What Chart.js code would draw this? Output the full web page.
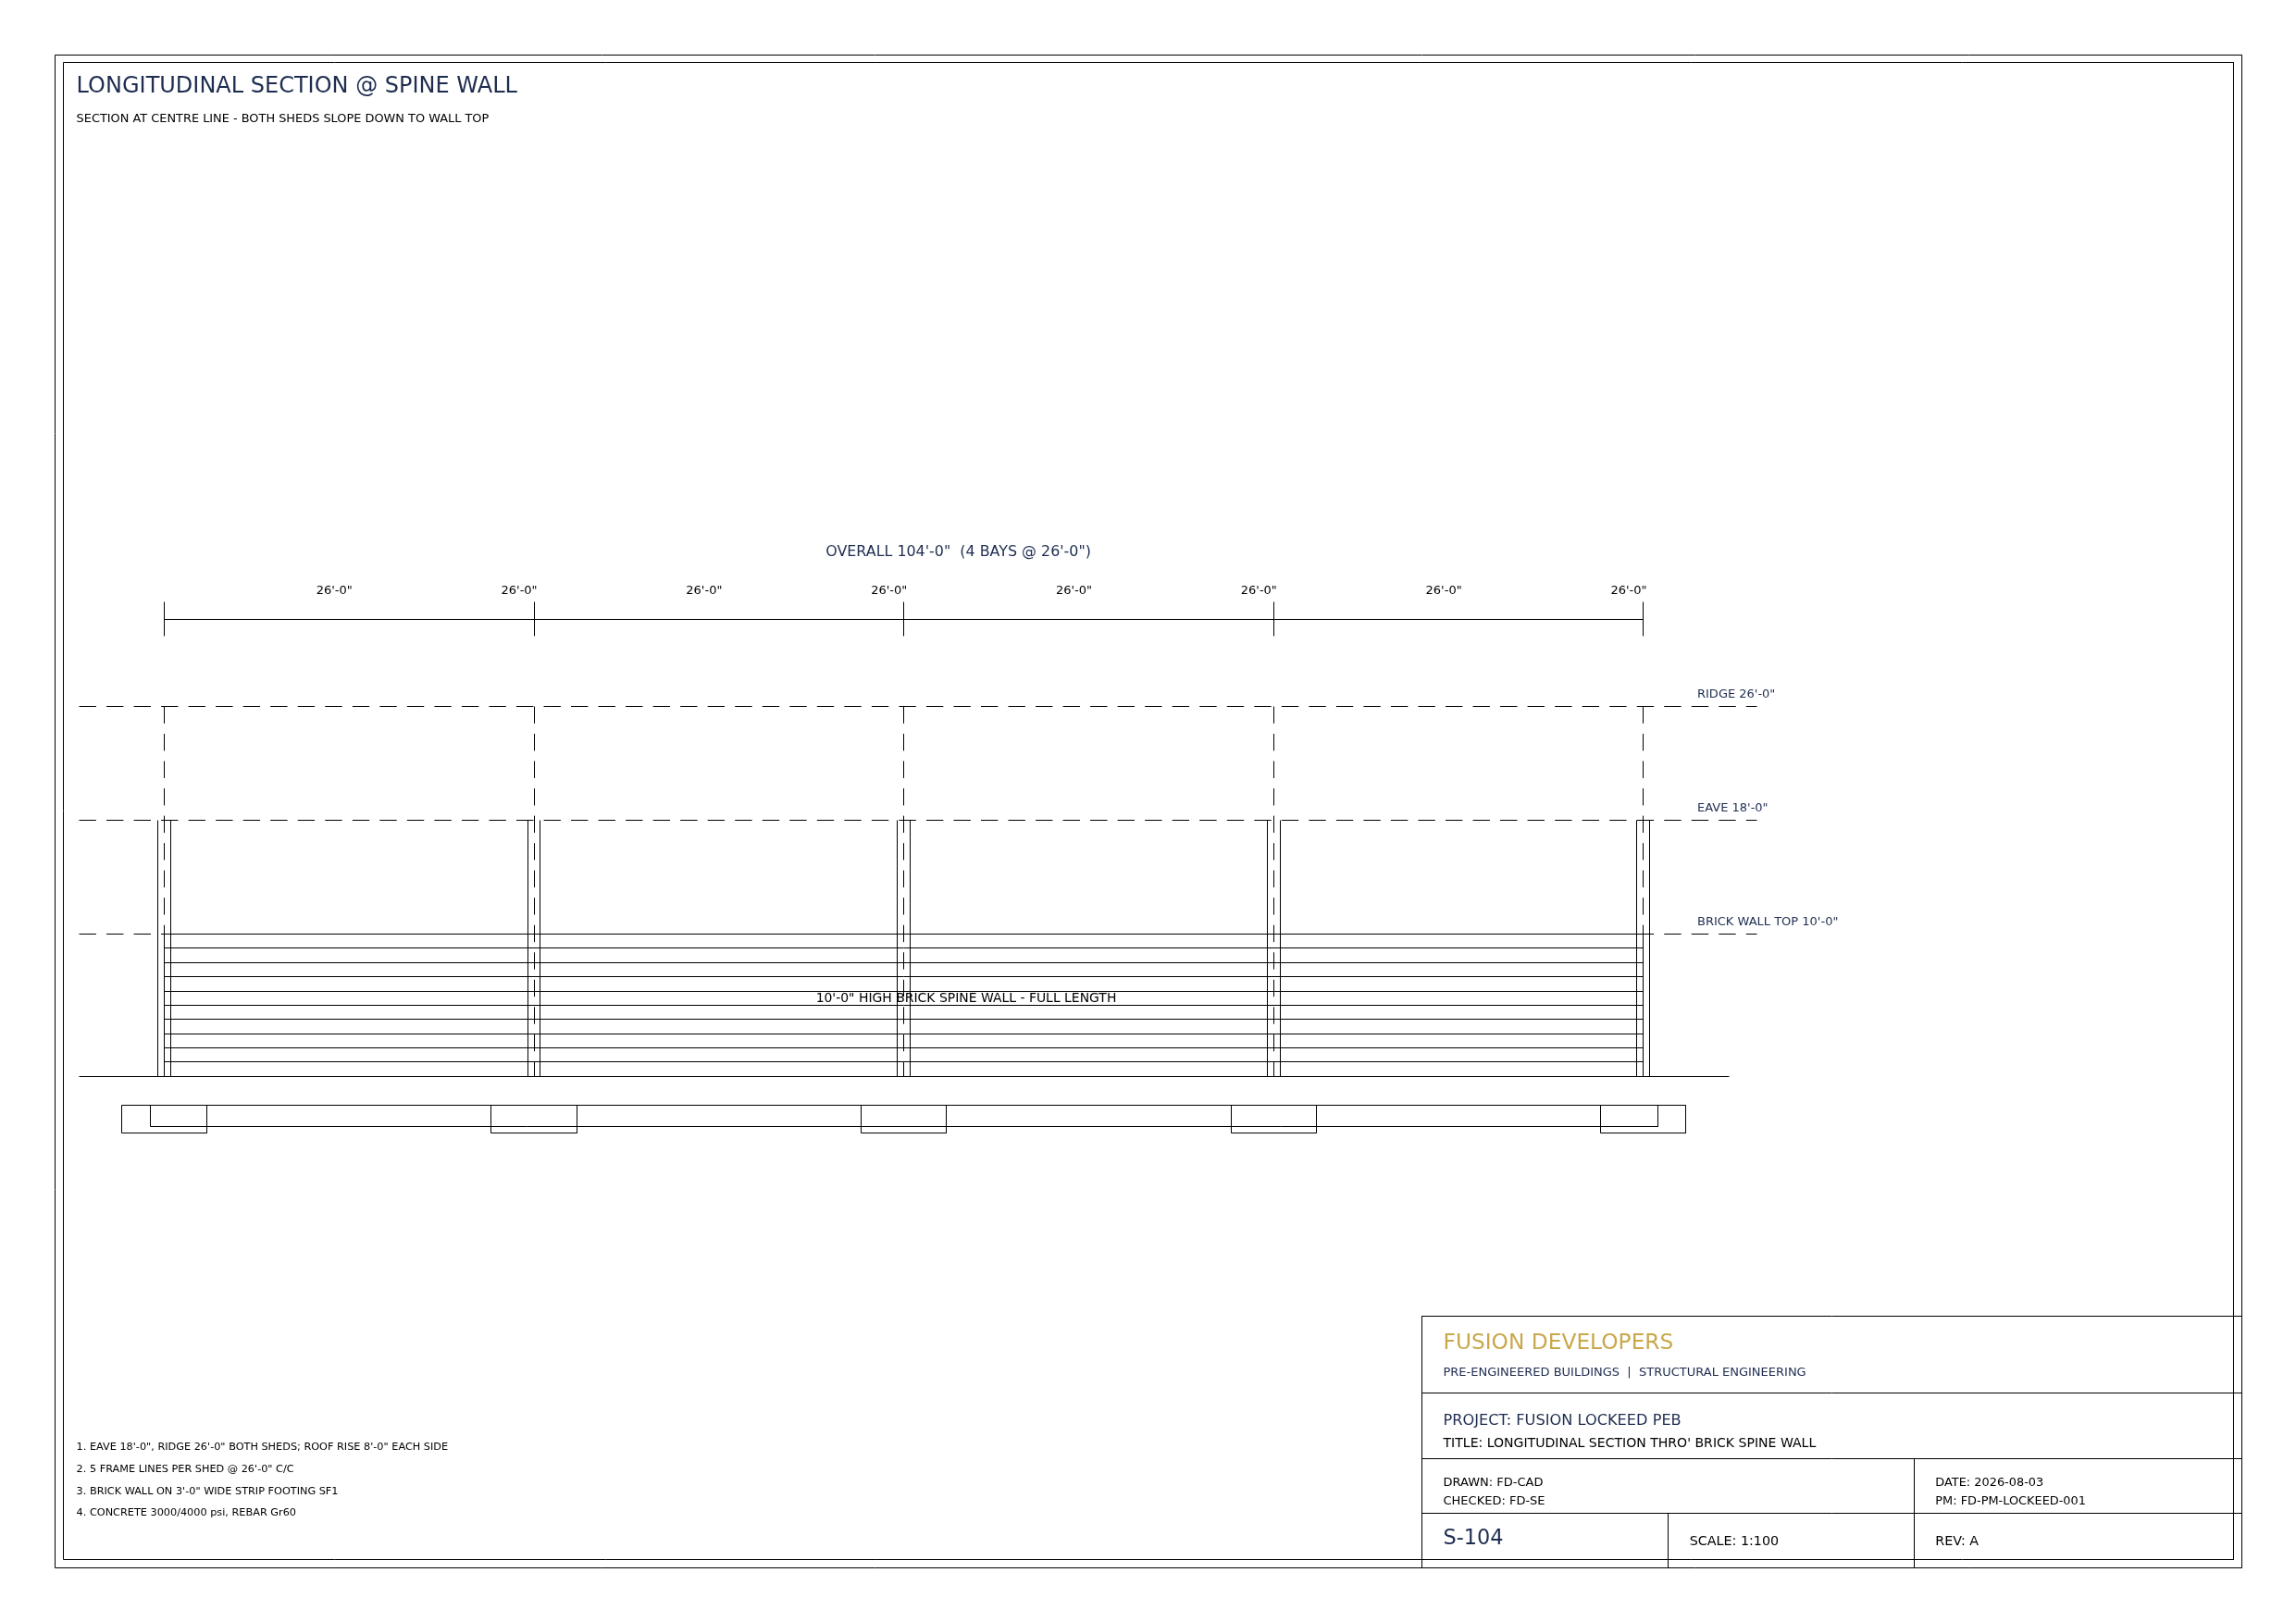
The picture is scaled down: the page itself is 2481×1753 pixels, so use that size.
<!DOCTYPE html>
<html>
<head>
<meta charset="utf-8">
<title>Longitudinal section @ spine wall</title>
<script src="https://cdn.jsdelivr.net/npm/chart.js@4/dist/chart.umd.min.js"></script>
<style>
  html, body { margin: 0; padding: 0; background: #fff; }
  #wrap { width: 2481px; height: 1753px; }
  canvas { display: block; }
</style>
</head>
<body>
<div id="wrap"><canvas id="sheet" width="2481" height="1753"></canvas></div>
<script>
// drawing values, all in feet
const frameLines = [0, 26, 52, 78, 104];
const levelValues = [26, 18, 10];
const levelNames = ["RIDGE 26'-0\"", "EAVE 18'-0\"", "BRICK WALL TOP 10'-0\""];
const brickCourses = [1, 2, 3, 4, 5, 6, 7, 8, 9];
const spanLabelAt = [12, 25, 38, 51, 64, 77, 90, 103];
const spanLabels = ["26'-0\"", "26'-0\"", "26'-0\"", "26'-0\"", "26'-0\"", "26'-0\"", "26'-0\"", "26'-0\""];
const levelExtent = [-6, 112];
const groundExtent = [-6, 110];
const wallExtent = [0, 104];
const wallTop = 10;
const columnHalf = 0.45;
const stripExtent = [-1, 105];
const stripLevels = [-2, -3.5];
const padHalf = 3;
const padLevels = [-2, -4];
const dimLevel = 32.15;
const dimTickHalf = 1.2;

// texts
const sheetTitle = "LONGITUDINAL SECTION @ SPINE WALL";
const sheetSubtitle = "SECTION AT CENTRE LINE - BOTH SHEDS SLOPE DOWN TO WALL TOP";
const overallLabel = "OVERALL 104'-0\"  (4 BAYS @ 26'-0\")";
const wallLabel = "10'-0\" HIGH BRICK SPINE WALL - FULL LENGTH";
const noteLines = [
  "1. EAVE 18'-0\", RIDGE 26'-0\" BOTH SHEDS; ROOF RISE 8'-0\" EACH SIDE",
  "2. 5 FRAME LINES PER SHED @ 26'-0\" C/C",
  "3. BRICK WALL ON 3'-0\" WIDE STRIP FOOTING SF1",
  "4. CONCRETE 3000/4000 psi, REBAR Gr60",
];

// sheet layout in pixels
const PX_X = 15.37, PX_Y = 15.37;
const ORIGIN_X = 177.4, ORIGIN_Y = 1163.3;
const W = 2481, H = 1753;
const NAVY = "#1e2d50", GOLD = "#c9a84c", INK = "#000";
const FONT = '"DejaVu Sans"';

const datasets = [];
function addLine(points, extra) {
  datasets.push({
    data: points,
    showLine: true,
    pointRadius: 0,
    borderColor: "#000",
    borderWidth: 1,
    tension: 0,
    fill: false,
    ...extra,
  });
}
const onSheet = { xAxisID: "sx", yAxisID: "sy" };
function sheetLine(x1, y1, x2, y2) {
  addLine([{ x: x1, y: y1 }, { x: x2, y: y2 }], onSheet);
}
function rect(x1, x2, y1, y2) {
  return [{ x: x1, y: y1 }, { x: x2, y: y1 }, { x: x2, y: y2 }, { x: x1, y: y2 }, { x: x1, y: y1 }];
}

// borders and title block
addLine(rect(59, 2422.5, 59.5, 1694), onSheet);
addLine(rect(68, 2413.5, 67.5, 1685), onSheet);
[1422.3, 1505.3, 1576, 1635.3].forEach((y) => sheetLine(1536.3, y, 2422.5, y));
sheetLine(1536.3, 1422.3, 1536.3, 1694);
sheetLine(1802.3, 1635.3, 1802.3, 1694);
sheetLine(2068.3, 1576, 2068.3, 1694);

// level lines
const dash = [18.4, 11.13];
levelValues.forEach((lv) => {
  addLine(levelExtent.map((x) => ({ x, y: lv })), { borderDash: dash });
});
addLine(groundExtent.map((x) => ({ x, y: 0 })));

// brick wall
addLine(rect(wallExtent[0], wallExtent[1], 0, wallTop));
brickCourses.forEach((c) => addLine(wallExtent.map((x) => ({ x, y: c }))));

// frames: centre line and column sides
frameLines.forEach((f) => {
  addLine([{ x: f, y: levelValues[0] }, { x: f, y: 0 }], { borderDash: dash });
  [f - columnHalf, f + columnHalf].forEach((x) => {
    addLine([{ x, y: 0 }, { x, y: levelValues[1] }]);
  });
  addLine(rect(f - padHalf, f + padHalf, padLevels[0], padLevels[1]));
  addLine([{ x: f, y: dimLevel - dimTickHalf }, { x: f, y: dimLevel + dimTickHalf }]);
});
addLine(rect(stripExtent[0], stripExtent[1], stripLevels[0], stripLevels[1]));
addLine([{ x: frameLines[0], y: dimLevel }, { x: frameLines[4], y: dimLevel }]);

function put(ctx, text, x, y, size, color, align) {
  ctx.font = `${size}px ${FONT}`;
  ctx.fillStyle = color;
  ctx.textAlign = align || "left";
  ctx.textBaseline = "alphabetic";
  ctx.fillText(text, x, y);
}

// the drawing has crisp one pixel lines, so sit the points on pixel centres
const pixelSnap = {
  id: "pixelSnap",
  afterDatasetsUpdate(chart) {
    chart.getSortedVisibleDatasetMetas().forEach((meta) => {
      meta.data.forEach((pt) => {
        pt.x = Math.floor(pt.x) + 0.5;
        pt.y = Math.floor(pt.y) + 0.5;
      });
    });
  },
};

const annotations = {
  id: "annotations",
  afterDatasetsDraw(chart) {
    const { ctx, scales } = chart;
    const fx = (v) => scales.x.getPixelForValue(v);
    ctx.save();
    put(ctx, sheetTitle, 82.6, 100, 24, NAVY);
    put(ctx, sheetSubtitle, 82.6, 132.3, 12.9, INK);
    put(ctx, overallLabel, 1035.6, 600.5, 15.9, NAVY, "center");
    spanLabels.forEach((t, i) => put(ctx, t, fx(spanLabelAt[i]) - 0.6, 642.3, 13, INK, "center"));
    const levelLabelYs = [754.3, 877.3, 1000.3];
    levelNames.forEach((t, i) => put(ctx, t, 1834, levelLabelYs[i], 13, NAVY));
    put(ctx, wallLabel, 1044, 1082.7, 13.95, INK, "center");
    const noteYs = [1567.3, 1591, 1614.7, 1638.3];
    noteLines.forEach((t, i) => put(ctx, t, 82.6, noteYs[i], 11.27, INK));

    put(ctx, "FUSION DEVELOPERS", 1559.5, 1458.3, 23.3, GOLD);
    put(ctx, "PRE-ENGINEERED BUILDINGS  |  STRUCTURAL ENGINEERING", 1559.5, 1487, 13, NAVY);
    put(ctx, "PROJECT: FUSION LOCKEED PEB", 1559.5, 1539.8, 16.2, NAVY);
    put(ctx, "TITLE: LONGITUDINAL SECTION THRO' BRICK SPINE WALL", 1559.5, 1564, 14.05, INK);
    put(ctx, "DRAWN: FD-CAD", 1559.5, 1605.7, 13, INK);
    put(ctx, "CHECKED: FD-SE", 1559.5, 1626.3, 13, INK);
    put(ctx, "DATE: 2026-08-03", 2091.3, 1605.7, 12.9, INK);
    put(ctx, "PM: FD-PM-LOCKEED-001", 2091.3, 1626.3, 12.9, INK);
    put(ctx, "S-104", 1559.5, 1669, 22.4, NAVY);
    put(ctx, "SCALE: 1:100", 1825.7, 1670.3, 14.3, INK);
    put(ctx, "REV: A", 2091.3, 1670.3, 14.3, INK);
    ctx.restore();
  },
};

new Chart(document.getElementById("sheet"), {
  type: "scatter",
  data: { datasets },
  plugins: [pixelSnap, annotations],
  options: {
    responsive: false,
    animation: false,
    devicePixelRatio: 1,
    layout: { padding: 0 },
    plugins: { legend: { display: false }, tooltip: { enabled: false }, title: { display: false } },
    scales: {
      x: { display: false, min: -ORIGIN_X / PX_X, max: (W - ORIGIN_X) / PX_X },
      y: { display: false, min: (ORIGIN_Y - H) / PX_Y, max: ORIGIN_Y / PX_Y },
      sx: { display: false, axis: "x", type: "linear", min: 0, max: W },
      sy: { display: false, axis: "y", type: "linear", min: 0, max: H, reverse: true },
    },
    elements: { line: { borderCapStyle: "butt", borderJoinStyle: "miter" } },
  },
});
</script>
</body>
</html>
